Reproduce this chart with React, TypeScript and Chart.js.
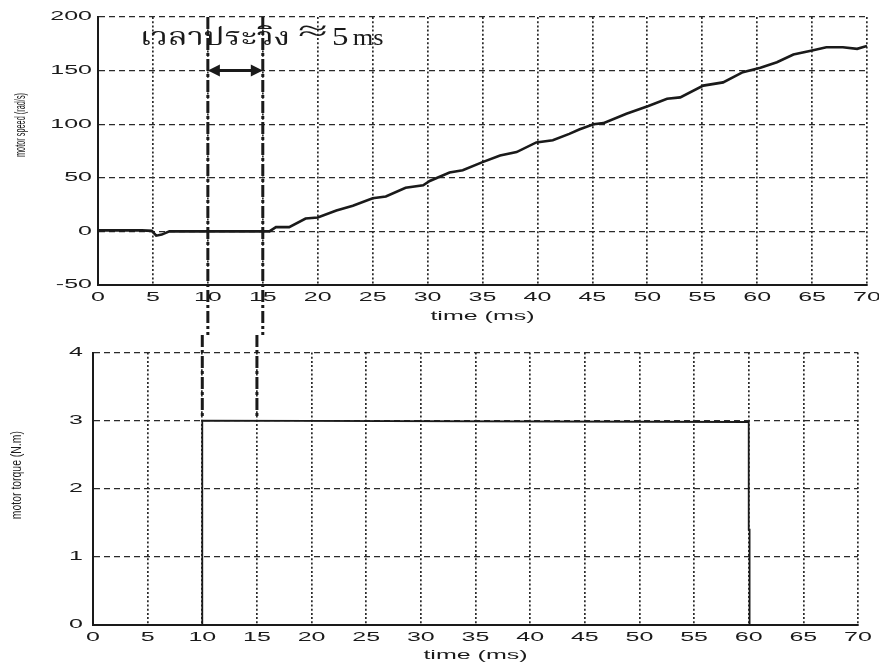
import React, { useEffect, useRef } from "react";
import { Chart, registerables } from "chart.js";

Chart.register(...registerables);

// ---------------- data ----------------
const speedTime = [0, 2, 4, 4.9, 5.3, 5.8, 6.5, 8, 10, 12, 14, 15.6, 16.2, 17.4, 18.9, 20, 21.7, 23.2, 25, 26.2, 28, 29.6, 30.2, 32, 33.2, 35, 36.6, 38.1, 39.9, 41.4, 42.9, 43.8, 45.1, 46, 48.1, 50.1, 51.8, 53, 55.1, 56.9, 58.7, 60.3, 61.8, 63.3, 65, 66.3, 67.8, 69.1, 70];
const speedValues = [1, 1, 1, 0.5, -4, -3, 0, 0, 0, 0, 0, 0, 4, 4, 12, 13, 19.5, 24, 31, 32.6, 40.7, 43, 47, 55, 57, 64.6, 70.8, 74, 83, 85, 91, 95, 100, 101, 109.7, 117, 123.7, 125, 136, 139, 148.5, 152.6, 157.8, 165, 168.7, 171.8, 171.8, 170.3, 173];

const torqueTime = [0, 10, 10, 60, 60, 60.08, 60.08, 70];
const torqueValues = [0, 0, 3, 2.98, 1.4, 1.4, 0, 0];

const timeTicks = [0, 5, 10, 15, 20, 25, 30, 35, 40, 45, 50, 55, 60, 65, 70];
const speedTicks = [-50, 0, 50, 100, 150, 200];
const torqueTicks = [0, 1, 2, 3, 4];

const xTitle = "time (ms)";
const speedTitle = "motor speed (rad/s)";
const torqueTitle = "motor torque (N.m)";
// annotation pieces: text, start (ms), end (ms)
const annoTexts = ["เวลาประวิง", "≈", "5", "ms"];
const annoStarts = [3.8, 18.2, 21.3, 23.2];
const annoEnds = [17.5, 20.9, 22.8, 26.0];
const annoBaselines = [174, 179, 174, 174];
const delayStart = 10;
const delayEnd = 15;
const arrowLevel = 150;
const torqueLevel = 3;

// ---------------- styling ----------------
const INK = "#1a1a1a";
const GRID = "#2a2a2a";
const STRETCH = 2.0;
const TICK_FONT = { family: "'Liberation Sans', Arial, sans-serif", size: 12.5 };
const ANNO_FONTS = [
  "25px 'Liberation Serif', 'Noto Serif Thai', 'Noto Sans Thai', serif",
  "28px 'Liberation Serif', serif",
  "25px 'Liberation Serif', serif",
  "24px 'Liberation Serif', serif",
];

// Draw the chart's own texts horizontally stretched, like the scanned figure.
const stretchPlugin = {
  id: "stretch",
  beforeDraw(chart: any) {
    const ctx = chart.ctx;
    ctx.save();
    ctx.fillStyle = "#ffffff";
    ctx.fillRect(0, 0, chart.width, chart.height);
    ctx.restore();
    if (!ctx.__origFill) ctx.__origFill = ctx.fillText;
    const orig = ctx.__origFill;
    ctx.fillText = function (text: string, x: number, y: number) {
      this.save();
      this.translate(x, y);
      this.scale(STRETCH, 1);
      orig.call(this, text, 0, 0);
      this.restore();
    };
  },
  afterDraw(chart: any) {
    const ctx = chart.ctx;
    if (ctx.__origFill) ctx.fillText = ctx.__origFill;
  },
};

function drawYTitle(chart: any, text: string, cx: number, frac: number, target: number) {
  const { ctx, chartArea } = chart;
  const cy = chartArea.top + frac * (chartArea.bottom - chartArea.top);
  ctx.save();
  ctx.font = "15px 'Liberation Sans', Arial, sans-serif";
  ctx.fillStyle = INK;
  const w = ctx.measureText(text).width;
  ctx.translate(cx, cy);
  ctx.rotate(-Math.PI / 2);
  ctx.scale(target / w, 1);
  ctx.textAlign = "center";
  ctx.textBaseline = "middle";
  ctx.fillText(text, 0, 0);
  ctx.restore();
}

function delayLines(chart: any, top: boolean) {
  const { ctx, chartArea, scales } = chart;
  const x = scales.x;
  const y = scales.y;
  ctx.save();
  ctx.strokeStyle = INK;
  ctx.lineWidth = 3;
  ctx.setLineDash([12, 3, 3, 3]);
  for (const t of [delayStart, delayEnd]) {
    const px = x.getPixelForValue(t);
    ctx.beginPath();
    if (top) {
      ctx.moveTo(px, chartArea.top);
      ctx.lineTo(px, chart.height);
    } else {
      ctx.moveTo(px, 0);
      ctx.lineTo(px, y.getPixelForValue(torqueLevel) - 4);
    }
    ctx.stroke();
  }
  ctx.restore();
}

const topPlugin = {
  id: "topAnno",
  afterDraw(chart: any) {
    const { ctx, scales } = chart;
    const x = scales.x;
    const y = scales.y;
    delayLines(chart, true);
    // double arrow
    const x1 = x.getPixelForValue(delayStart);
    const x2 = x.getPixelForValue(delayEnd);
    const ay = y.getPixelForValue(arrowLevel);
    ctx.save();
    ctx.strokeStyle = INK;
    ctx.fillStyle = INK;
    ctx.lineWidth = 3;
    ctx.beginPath();
    ctx.moveTo(x1 + 8, ay);
    ctx.lineTo(x2 - 8, ay);
    ctx.stroke();
    const head = 12;
    const half = 6;
    ctx.beginPath();
    ctx.moveTo(x1, ay);
    ctx.lineTo(x1 + head, ay - half);
    ctx.lineTo(x1 + head, ay + half);
    ctx.closePath();
    ctx.fill();
    ctx.beginPath();
    ctx.moveTo(x2, ay);
    ctx.lineTo(x2 - head, ay - half);
    ctx.lineTo(x2 - head, ay + half);
    ctx.closePath();
    ctx.fill();
    ctx.restore();

    // annotation text, each piece fitted between its start and end time
    ctx.save();
    ctx.fillStyle = INK;
    ctx.textAlign = "left";
    ctx.textBaseline = "alphabetic";
    annoTexts.forEach((txt, i) => {
      const a = x.getPixelForValue(annoStarts[i]);
      const b = x.getPixelForValue(annoEnds[i]);
      const by = y.getPixelForValue(annoBaselines[i]);
      ctx.font = ANNO_FONTS[i];
      const w = ctx.measureText(txt).width;
      ctx.save();
      ctx.translate(a, by);
      ctx.scale((b - a) / w, 1);
      ctx.fillText(txt, 0, 0);
      ctx.restore();
    });
    ctx.restore();

    drawYTitle(chart, speedTitle, 21, 0.403, 64);
  },
};

const bottomPlugin = {
  id: "bottomAnno",
  afterDraw(chart: any) {
    delayLines(chart, false);
    drawYTitle(chart, torqueTitle, 17, 0.45, 88);
  },
};

function baseOptions(
  yTicks: number[],
  yWidth: number,
  xHeight: number,
  pad: { top: number; right: number },
  titlePadBottom: number,
  yTickPad: number
): any {
  return {
    responsive: false,
    animation: false,
    devicePixelRatio: 1,
    layout: { padding: { top: pad.top, right: pad.right, left: 0, bottom: 0 } },
    plugins: { legend: { display: false }, tooltip: { enabled: false } },
    elements: { point: { radius: 0 } },
    scales: {
      x: {
        type: "linear",
        min: timeTicks[0],
        max: timeTicks[timeTicks.length - 1],
        afterBuildTicks: (s: any) => {
          s.ticks = timeTicks.map((v) => ({ value: v }));
        },
        afterFit: (s: any) => {
          s.height = xHeight;
        },
        grid: { color: GRID, lineWidth: 1.7, drawTicks: false },
        border: { display: true, color: INK, width: 2, dash: [2, 2.2] },
        ticks: { color: INK, font: TICK_FONT, padding: 5, maxRotation: 0, autoSkip: false },
        title: {
          display: true,
          text: xTitle,
          color: INK,
          font: TICK_FONT,
          padding: { top: 0, bottom: titlePadBottom },
        },
      },
      y: {
        type: "linear",
        min: yTicks[0],
        max: yTicks[yTicks.length - 1],
        afterBuildTicks: (s: any) => {
          s.ticks = yTicks.map((v) => ({ value: v }));
        },
        afterFit: (s: any) => {
          s.width = yWidth;
        },
        grid: { color: GRID, lineWidth: 1.2, drawTicks: false },
        border: { display: true, color: INK, width: 2, dash: [6, 4] },
        ticks: { color: INK, font: TICK_FONT, padding: yTickPad, autoSkip: false },
      },
    },
  };
}

export default function App() {
  const topRef = useRef<HTMLCanvasElement | null>(null);
  const botRef = useRef<HTMLCanvasElement | null>(null);

  useEffect(() => {
    const top = new Chart(topRef.current as HTMLCanvasElement, {
      type: "line",
      data: {
        datasets: [
          {
            data: speedTime.map((t, i) => ({ x: t, y: speedValues[i] })),
            borderColor: INK,
            borderWidth: 2.6,
            pointRadius: 0,
            tension: 0,
            fill: false,
          },
        ],
      },
      options: baseOptions(speedTicks, 98, 50, { top: 17, right: 12 }, 11, 6),
      plugins: [stretchPlugin, topPlugin],
    });
    const bot = new Chart(botRef.current as HTMLCanvasElement, {
      type: "line",
      data: {
        datasets: [
          {
            data: torqueTime.map((t, i) => ({ x: t, y: torqueValues[i] })),
            borderColor: INK,
            borderWidth: 1.8,
            pointRadius: 0,
            tension: 0,
            fill: false,
          },
        ],
      },
      options: baseOptions(torqueTicks, 93, 38, { top: 17, right: 21 }, 0, 10),
      plugins: [stretchPlugin, bottomPlugin],
    });
    return () => {
      top.destroy();
      bot.destroy();
    };
  }, []);

  return (
    <div style={{ position: "fixed", left: 0, top: 0, width: 879, height: 663, background: "#fff" }}>
      <canvas ref={topRef} width={879} height={335} style={{ display: "block", width: 879, height: 335 }} />
      <canvas ref={botRef} width={879} height={328} style={{ display: "block", width: 879, height: 328 }} />
    </div>
  );
}
